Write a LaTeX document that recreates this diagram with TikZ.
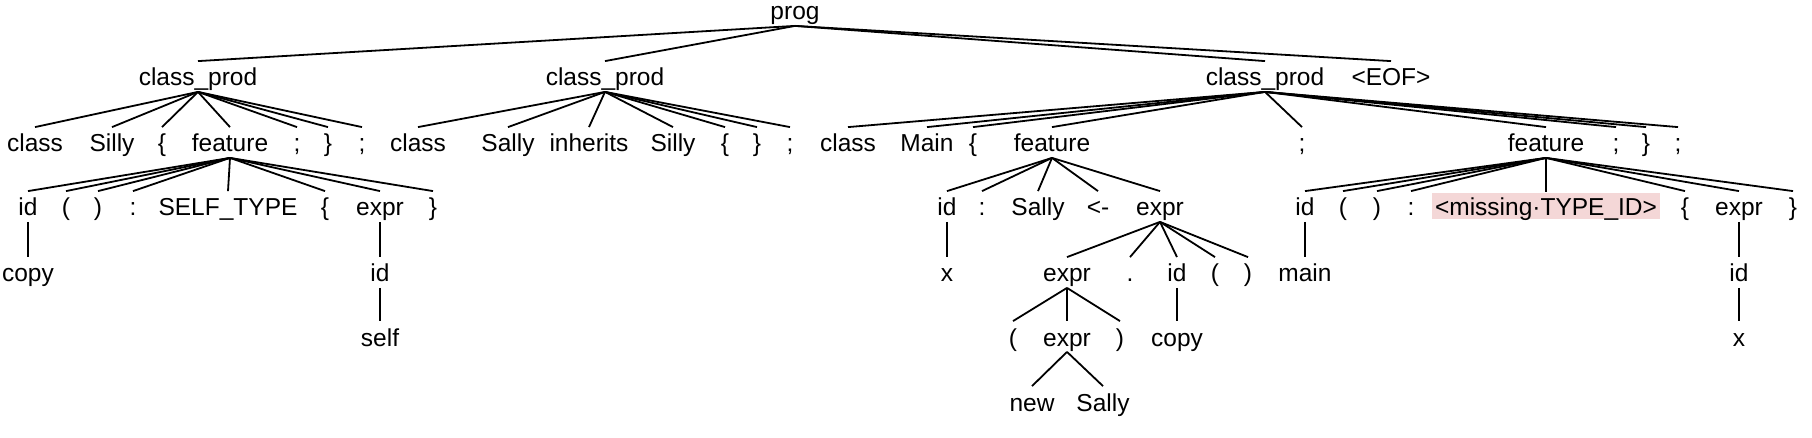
\documentclass[tikz,border=0pt]{standalone}
\usepackage{fontspec}
\setmainfont{Liberation Sans}
\usepackage{xcolor}
\definecolor{errpink}{RGB}{244,215,215}

\begin{document}
\begin{tikzpicture}[x=1pt, y=-1pt, line width=1.8pt,
  tok/.style={anchor=base, inner xsep=0pt, inner ysep=0pt, text height=24pt, text depth=5pt, font=\fontsize{24.5}{28}\selectfont},
  err/.style={tok, fill=errpink, inner xsep=3pt, text height=23pt, text depth=3pt}]
\useasboundingbox (0,0) rectangle (1812,438);

% level 0 and 1
\node[tok] (prog) at (795, 20) {prog};
\node[tok] (cpA) at (198, 86) {class\_prod};
\node[tok] (cpB) at (605, 86) {class\_prod};
\node[tok] (cpC) at (1265, 86) {class\_prod};
\node[tok] (eof) at (1391, 86) {<EOF>};

% first class
\node[tok] (aClass) at (35, 152) {class};
\node[tok] (aSilly) at (112, 152) {Silly};
\node[tok] (aLb) at (162, 152) {\{};
\node[tok] (aFeat) at (230, 152) {feature};
\node[tok] (aSemi) at (297, 152) {;};
\node[tok] (aRb) at (328, 152) {\}};
\node[tok] (aSemiB) at (362, 152) {;};

\node[tok] (aId) at (28, 216) {id};
\node[tok] (aLp) at (66, 216) {(};
\node[tok] (aRp) at (98, 216) {)};
\node[tok] (aColon) at (133, 216) {:};
\node[tok] (aSelf) at (228, 216) {SELF\_TYPE};
\node[tok] (aLb2) at (325, 216) {\{};
\node[tok] (aExpr) at (380, 216) {expr};
\node[tok] (aRb2) at (433, 216) {\}};

\node[tok] (aCopy) at (28, 282) {copy};
\node[tok] (aExprId) at (380, 282) {id};
\node[tok] (aSelfId) at (380, 346) {self};

% second class
\node[tok] (bClass) at (418, 152) {class};
\node[tok] (bSally) at (508, 152) {Sally};
\node[tok] (bInh) at (589, 152) {inherits};
\node[tok] (bSilly) at (673, 152) {Silly};
\node[tok] (bLb) at (725, 152) {\{};
\node[tok] (bRb) at (757, 152) {\}};
\node[tok] (bSemi) at (790, 152) {;};

% third class
\node[tok] (cClass) at (848, 152) {class};
\node[tok] (cMain) at (927, 152) {Main};
\node[tok] (cLb) at (973, 152) {\{};
\node[tok] (cFeat) at (1052, 152) {feature};
\node[tok] (cSemi) at (1302, 152) {;};
\node[tok] (cFeat2) at (1546, 152) {feature};
\node[tok] (cSemi2) at (1616, 152) {;};
\node[tok] (cRb) at (1646, 152) {\}};
\node[tok] (cSemi3) at (1678, 152) {;};

\node[tok] (cId) at (947, 216) {id};
\node[tok] (cColon) at (982, 216) {:};
\node[tok] (cSally) at (1038, 216) {Sally};
\node[tok] (cAssign) at (1098, 216) {<-};
\node[tok] (cExpr) at (1160, 216) {expr};

\node[tok] (cX) at (947, 282) {x};
\node[tok] (cExprA) at (1067, 282) {expr};
\node[tok] (cDot) at (1130, 282) {.};
\node[tok] (cIdB) at (1177, 282) {id};
\node[tok] (cLp) at (1215, 282) {(};
\node[tok] (cRp) at (1248, 282) {)};

\node[tok] (cLp2) at (1013, 346) {(};
\node[tok] (cExprB) at (1067, 346) {expr};
\node[tok] (cRp2) at (1120, 346) {)};
\node[tok] (cCopy) at (1177, 346) {copy};

\node[tok] (cNew) at (1032, 411) {new};
\node[tok] (cSallyB) at (1103, 411) {Sally};

\node[tok] (dId) at (1305, 216) {id};
\node[tok] (dLp) at (1343, 216) {(};
\node[tok] (dRp) at (1377, 216) {)};
\node[tok] (dColon) at (1411, 216) {:};
\node[err] (dMiss) at (1546, 216) {<missing·TYPE\_ID>};
\node[tok] (dLb) at (1685, 216) {\{};
\node[tok] (dExpr) at (1739, 216) {expr};
\node[tok] (dRb) at (1793, 216) {\}};

\node[tok] (dMain) at (1305, 282) {main};
\node[tok] (dIdB) at (1739, 282) {id};
\node[tok] (dX) at (1739, 346) {x};

% edges
\draw (prog.south) -- (cpA.north);
\draw (prog.south) -- (cpB.north);
\draw (prog.south) -- (cpC.north);
\draw (prog.south) -- (eof.north);

\draw (cpA.south) -- (aClass.north);
\draw (cpA.south) -- (aSilly.north);
\draw (cpA.south) -- (aLb.north);
\draw (cpA.south) -- (aFeat.north);
\draw (cpA.south) -- (aSemi.north);
\draw (cpA.south) -- (aRb.north);
\draw (cpA.south) -- (aSemiB.north);

\draw (aFeat.south) -- (aId.north);
\draw (aFeat.south) -- (aLp.north);
\draw (aFeat.south) -- (aRp.north);
\draw (aFeat.south) -- (aColon.north);
\draw (aFeat.south) -- (aSelf.north);
\draw (aFeat.south) -- (aLb2.north);
\draw (aFeat.south) -- (aExpr.north);
\draw (aFeat.south) -- (aRb2.north);
\draw (aId.south) -- (aCopy.north);
\draw (aExpr.south) -- (aExprId.north);
\draw (aExprId.south) -- (aSelfId.north);

\draw (cpB.south) -- (bClass.north);
\draw (cpB.south) -- (bSally.north);
\draw (cpB.south) -- (bInh.north);
\draw (cpB.south) -- (bSilly.north);
\draw (cpB.south) -- (bLb.north);
\draw (cpB.south) -- (bRb.north);
\draw (cpB.south) -- (bSemi.north);

\draw (cpC.south) -- (cClass.north);
\draw (cpC.south) -- (cMain.north);
\draw (cpC.south) -- (cLb.north);
\draw (cpC.south) -- (cFeat.north);
\draw (cpC.south) -- (cSemi.north);
\draw (cpC.south) -- (cFeat2.north);
\draw (cpC.south) -- (cSemi2.north);
\draw (cpC.south) -- (cRb.north);
\draw (cpC.south) -- (cSemi3.north);

\draw (cFeat.south) -- (cId.north);
\draw (cFeat.south) -- (cColon.north);
\draw (cFeat.south) -- (cSally.north);
\draw (cFeat.south) -- (cAssign.north);
\draw (cFeat.south) -- (cExpr.north);
\draw (cId.south) -- (cX.north);
\draw (cExpr.south) -- (cExprA.north);
\draw (cExpr.south) -- (cDot.north);
\draw (cExpr.south) -- (cIdB.north);
\draw (cExpr.south) -- (cLp.north);
\draw (cExpr.south) -- (cRp.north);
\draw (cExprA.south) -- (cLp2.north);
\draw (cExprA.south) -- (cExprB.north);
\draw (cExprA.south) -- (cRp2.north);
\draw (cIdB.south) -- (cCopy.north);
\draw (cExprB.south) -- (cNew.north);
\draw (cExprB.south) -- (cSallyB.north);

\draw (cFeat2.south) -- (dId.north);
\draw (cFeat2.south) -- (dLp.north);
\draw (cFeat2.south) -- (dRp.north);
\draw (cFeat2.south) -- (dColon.north);
\draw (cFeat2.south) -- (dMiss.north);
\draw (cFeat2.south) -- (dLb.north);
\draw (cFeat2.south) -- (dExpr.north);
\draw (cFeat2.south) -- (dRb.north);
\draw (dId.south) -- (dMain.north);
\draw (dExpr.south) -- (dIdB.north);
\draw (dIdB.south) -- (dX.north);
\end{tikzpicture}
\end{document}
